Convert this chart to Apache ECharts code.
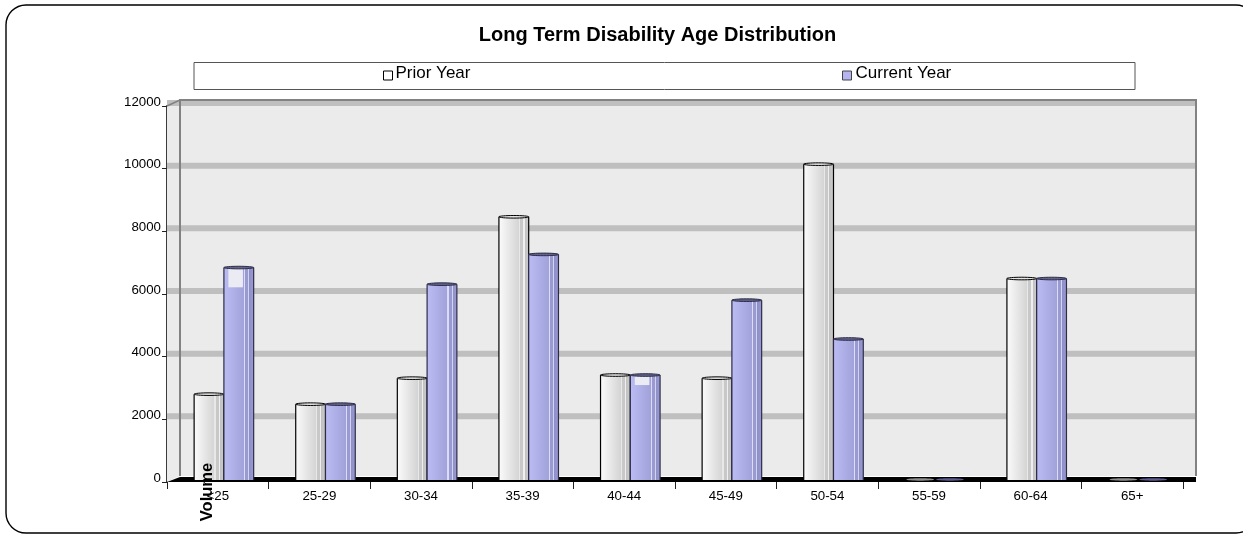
<!DOCTYPE html>
<html>
<head>
<meta charset="utf-8">
<title>Long Term Disability Age Distribution</title>
<style>html,body{margin:0;padding:0;background:#fff}#chart{width:1243px;height:535px}</style>
<script src="https://cdn.jsdelivr.net/npm/echarts@6/dist/echarts.min.js"></script>
</head>
<body>
<div id="chart"></div>
<script>
const ageBands = ['<25', '25-29', '30-34', '35-39', '40-44', '45-49', '50-54', '55-59', '60-64', '65+'];
const priorYear = [2740, 2420, 3250, 8400, 3350, 3250, 10080, 0, 6430, 0];
const currentYear = [6780, 2420, 6250, 7200, 3350, 5740, 4500, 0, 6430, 0];
// Level where the solid fill of a current-year column starts; below the column top it leaves a pale cap.
const currentFillTop = [6150, 2420, 6250, 7200, 3030, 5740, 4500, 0, 6430, 0];
const volumeTicks = [0, 2000, 4000, 6000, 8000, 10000, 12000];

const FONT = '"Liberation Sans", Arial, sans-serif';
const DEPTH_X = 13, DEPTH_Y = 6, BAND = 6;

const priorStops = [
  [0, '#fbfbfb'], [0.68, '#d4d4d4'], [0.68, '#e8e8e8'], [0.72, '#e8e8e8'], [0.72, '#c8c8c8'],
  [0.82, '#c8c8c8'], [0.82, '#efefef'], [0.86, '#efefef'], [0.86, '#c0c0c0'], [1, '#cccccc']
];
const currentStops = [
  [0, '#bcbcf4'], [0.68, '#a2a2da'], [0.68, '#dcdcf6'], [0.72, '#dcdcf6'], [0.72, '#9a9ad2'],
  [0.82, '#9a9ad2'], [0.82, '#d4d4f0'], [0.86, '#d4d4f0'], [0.86, '#8e8ec8'], [1, '#9c9cd4']
];

function hGradient(stops) {
  return {
    type: 'linear', x: 0, y: 0, x2: 1, y2: 0,
    colorStops: stops.map(s => ({ offset: s[0], color: s[1] }))
  };
}

// Back wall, side wall, floor and the thick gridline bands, placed through the axes.
function renderWalls(params, api) {
  const cs = params.coordSys;
  const left = cs.x, right = cs.x + cs.width;
  const y0 = api.coord([0, 0])[1];
  const yTop = api.coord([0, 12000])[1];
  const kids = [
    { type: 'polygon', shape: { points: [[left, yTop], [left + DEPTH_X, yTop - DEPTH_Y], [right + DEPTH_X, yTop - DEPTH_Y], [right + DEPTH_X, y0 - DEPTH_Y], [left + DEPTH_X, y0 - DEPTH_Y], [left, y0]] },
      style: { fill: '#ebebeb' } }
  ];
  volumeTicks.forEach(v => {
    const y = api.coord([0, v])[1];
    if (v > 0) {
      kids.push({ type: 'rect', shape: { x: left, y: y - BAND, width: cs.width + DEPTH_X, height: BAND }, style: { fill: '#bfbfbf' } });
    }
  });
  kids.push(
    { type: 'polyline', shape: { points: [[left + DEPTH_X, y0 - DEPTH_Y], [left + DEPTH_X, yTop - DEPTH_Y], [right + DEPTH_X, yTop - DEPTH_Y], [right + DEPTH_X, y0 - DEPTH_Y]] },
      style: { stroke: '#828282', lineWidth: 2, fill: null } },
    { type: 'line', shape: { x1: left, y1: yTop, x2: left + DEPTH_X, y2: yTop - DEPTH_Y }, style: { stroke: '#828282', lineWidth: 1.5 } },
    { type: 'polygon', shape: { points: [[left, y0], [left + DEPTH_X, y0 - DEPTH_Y + 1], [right + DEPTH_X, y0 - DEPTH_Y + 1], [right + DEPTH_X, y0]] },
      style: { fill: '#000' } }
  );
  return { type: 'group', children: kids };
}

// One cylinder per data row; side -1 sits left of the joint, side +1 right of it.
function cylinderRenderer(side, stops, capFill, edge, emptyFill) {
  return function (params, api) {
    const idx = api.value(0), val = api.value(1), fillTop = api.value(2);
    const band = api.size([1, 0])[0];
    const w = band * 0.293;
    const joint = api.coord([idx, 0])[0] + band * 0.06;
    const x = side < 0 ? joint - w : joint;
    const yBase = api.coord([idx, 0])[1] - 2;
    const yTop = api.coord([idx, val])[1] - 2;
    const rx = w / 2, cx = x + rx;
    if (val === 0) {
      return { type: 'ellipse', shape: { cx: cx, cy: yBase - 0.5, rx: rx - 1, ry: 1.2 }, style: { fill: emptyFill } };
    }
    const kids = [
      { type: 'rect', shape: { x: x, y: yTop, width: w, height: yBase - yTop }, style: { fill: hGradient(stops) } }
    ];
    if (fillTop < val) {
      const yFill = api.coord([idx, fillTop])[1] - 2;
      kids.push({ type: 'rect', shape: { x: x + w * 0.15, y: yTop + 1, width: w * 0.49, height: yFill - yTop - 1 }, style: { fill: '#ebebf4' } });
    }
    kids.push(
      { type: 'line', shape: { x1: x, y1: yTop, x2: x, y2: yBase }, style: { stroke: edge, lineWidth: 1.2 } },
      { type: 'line', shape: { x1: x + w, y1: yTop, x2: x + w, y2: yBase }, style: { stroke: edge, lineWidth: 1.2 } },
      { type: 'ellipse', shape: { cx: cx, cy: yTop, rx: rx, ry: 1.3 }, style: { fill: capFill, stroke: edge, lineWidth: 1 } }
    );
    return { type: 'group', children: kids };
  };
}

function legendEntry(name, left, edge, gap) {
  return {
    data: [name], left: left, top: 64.5, padding: 0, icon: 'rect', itemWidth: 9, itemHeight: 9, itemGap: 0,
    itemStyle: { borderColor: edge, borderWidth: 1 },
    formatter: n => '{t|' + n + '}',
    textStyle: { rich: { t: { fontFamily: FONT, fontSize: 17, color: '#000', padding: [0, 0, 5, gap] } } }
  };
}

const chart = echarts.init(document.getElementById('chart'));
chart.setOption({
  animation: false,
  backgroundColor: '#fff',
  title: {
    text: 'Long Term Disability Age Distribution',
    left: 652.5, top: 20, textAlign: 'center',
    textStyle: { fontFamily: FONT, fontWeight: 'bold', fontSize: 20, color: '#000' }
  },
  graphic: [
    { type: 'rect', z: -1, shape: { x: 6, y: 5, width: 1250, height: 528, r: 20 }, style: { fill: '#fff', stroke: '#000', lineWidth: 1.4 } },
    { type: 'rect', z: -1, shape: { x: 194, y: 62.5, width: 941, height: 27 }, style: { fill: '#fff', stroke: '#555', lineWidth: 1 } },
    { type: 'text', z: 100, x: 207, y: 492, rotation: Math.PI / 2,
      style: { text: 'Volume', font: 'bold 16.5px ' + FONT, fill: '#000', align: 'center', verticalAlign: 'middle' } }
  ],
  legend: [legendEntry('Prior Year', 383, '#000', -2), legendEntry('Current Year', 842, '#444', -1)],
  grid: { left: 167, right: 60, top: 106, height: 376 },
  xAxis: {
    type: 'category', data: ageBands, boundaryGap: true,
    axisLine: { show: false },
    axisTick: { show: true, alignWithLabel: false, length: 7, lineStyle: { color: '#222', width: 1 } },
    axisLabel: { fontFamily: FONT, fontSize: 13.3, color: '#000', margin: 8 }
  },
  yAxis: {
    type: 'value', min: 0, max: 12000, interval: 2000,
    splitLine: { show: false },
    axisLine: { show: true, lineStyle: { color: '#3c3c3c', width: 2 } },
    axisTick: { show: true, length: 5, lineStyle: { color: '#222', width: 1 } },
    axisLabel: { fontFamily: FONT, fontSize: 13.3, color: '#000', margin: 6, formatter: v => String(v), verticalAlign: 'bottom', lineHeight: 8 }
  },
  series: [
    { type: 'custom', name: 'walls', silent: true, clip: false, z: 1, renderItem: renderWalls, data: [[0, 0]], encode: { x: 0, y: 1 } },
    { type: 'custom', name: 'Prior Year', clip: false, z: 3, itemStyle: { color: '#fff' },
      renderItem: cylinderRenderer(-1, priorStops, '#e4e4e4', '#000', '#8e8e8e'),
      data: ageBands.map((_, i) => [i, priorYear[i], priorYear[i]]), encode: { x: 0, y: 1 } },
    { type: 'custom', name: 'Current Year', clip: false, z: 3, itemStyle: { color: '#b4b4f0' },
      renderItem: cylinderRenderer(1, currentStops, '#62628a', '#2c2c48', '#5c5c90'),
      data: ageBands.map((_, i) => [i, currentYear[i], currentFillTop[i]]), encode: { x: 0, y: 1 } }
  ]
});
</script>
</body>
</html>
